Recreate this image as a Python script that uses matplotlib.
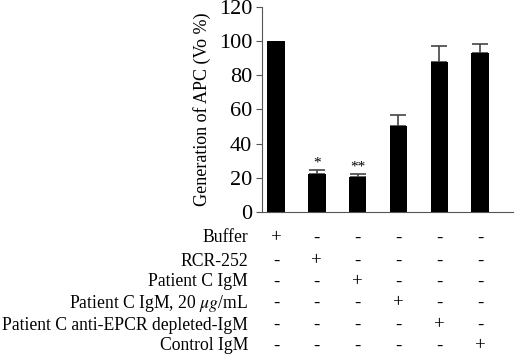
import numpy as np
import matplotlib
matplotlib.use('Agg')
import matplotlib.pyplot as plt
import matplotlib.transforms as mtransforms

plt.rcParams['font.family'] = ['Liberation Serif', 'DejaVu Serif']
plt.rcParams['mathtext.fontset'] = 'stix'

values = [100, 22.2, 20.4, 50.3, 87.7, 93.1]
errors = [0, 2.1, 1.8, 6.2, 9.6, 5.4]
stars = ['', '*', '**', '', '', '']
conditions = ['Buffer', 'RCR-252', 'Patient C IgM',
              r'Patient C IgM, 20 $\mu g$/mL',
              'Patient C anti-EPCR depleted-IgM', 'Control IgM']
yticks = [0, 20, 40, 60, 80, 100, 120]

fig = plt.figure(figsize=(5.2, 3.56), dpi=100)
ax = fig.add_axes([0.504, 0.4045, 0.483, 0.576])

x = np.arange(len(values))
ax.bar(x, values, width=0.43, color='black', zorder=2)
ax.errorbar(x[1:], values[1:], yerr=[np.zeros(5), errors[1:]], fmt='none',
            ecolor='#444444', elinewidth=1.2, capsize=6, capthick=1.2, zorder=1)
for xi, v, e, s in zip(x, values, errors, stars):
    if s:
        ax.text(xi, v + e + 0.5, s, ha='center', va='bottom', fontsize=11)

ax.set_xlim(-0.34, 5.81)
ax.set_ylim(0, 120)
ax.set_yticks(yticks)
ax.tick_params(axis='y', labelsize=16, length=4, direction='out', color='#555555', pad=3)
ax.set_xticks([])
ax.set_ylabel('Generation of APC (Vo %)', fontsize=13, labelpad=6)
for sp in ['top', 'right']:
    ax.spines[sp].set_visible(False)
for sp in ['left', 'bottom']:
    ax.spines[sp].set_color('#555555')

trans = mtransforms.blended_transform_factory(ax.transData, fig.transFigure)
row_y = [238, 261, 282, 303, 325, 346]
for i, (name, py) in enumerate(zip(conditions, row_y)):
    yf = 1 - py / 356
    fig.text(248 / 520, yf, name, ha='right', va='center', fontsize=12.7)
    for j in range(len(values)):
        mark = '+' if i == j else '-'
        ax.text(j, yf, mark, transform=trans, ha='center', va='center',
                fontsize=13.5, clip_on=False)

fig.savefig('out.png', dpi=100)
